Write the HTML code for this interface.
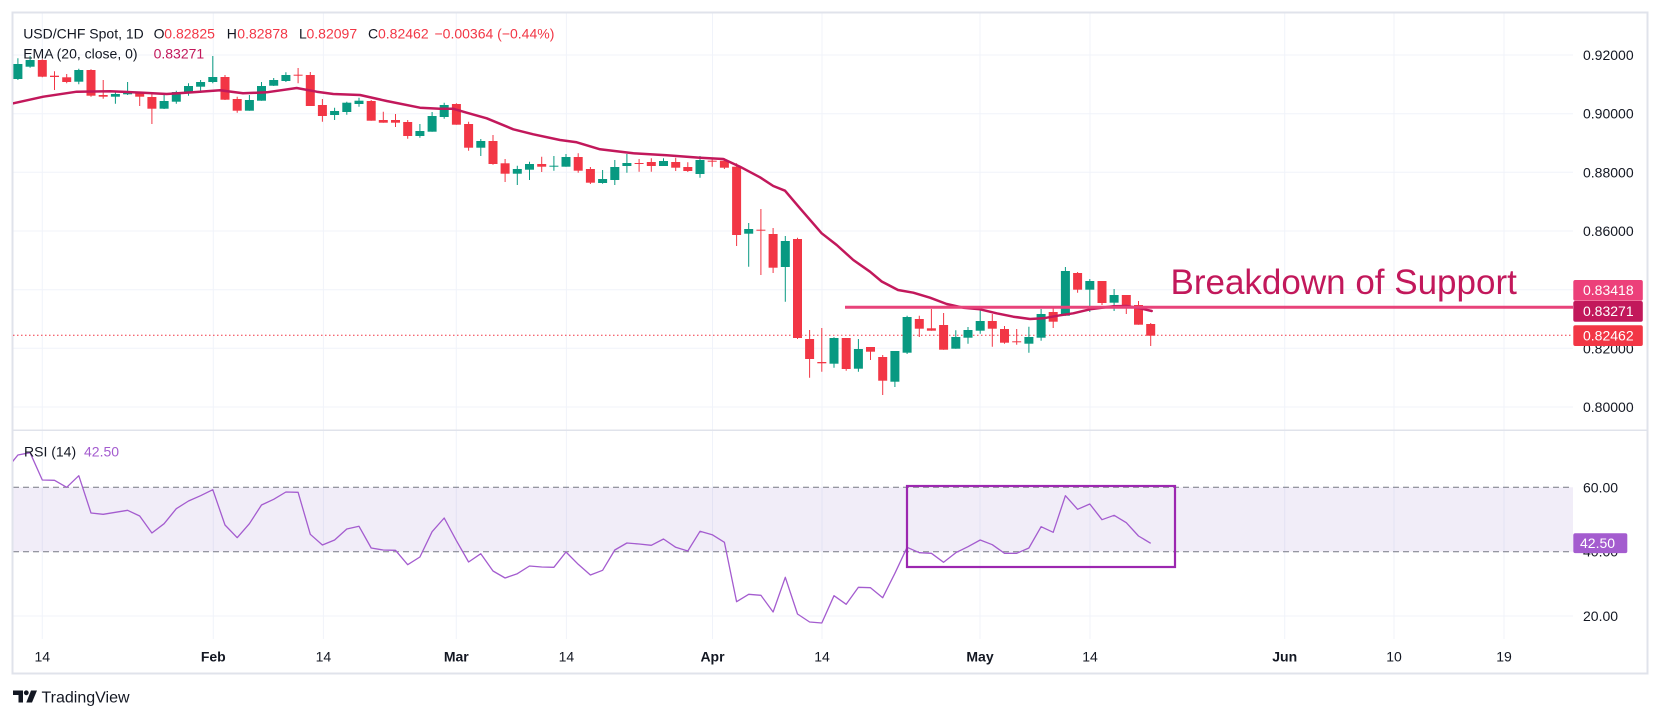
<!DOCTYPE html>
<html>
<head>
<meta charset="utf-8">
<style>
html,body{margin:0;padding:0;background:#fff;}
svg{display:block;}
text{font-family:"Liberation Sans",sans-serif;}
</style>
</head>
<body>
<svg width="1661" height="718" viewBox="0 0 1661 718" xmlns="http://www.w3.org/2000/svg">
<defs>
<clipPath id="cp"><rect x="13" y="13.5" width="1560" height="416.5"/></clipPath>
<clipPath id="cr"><rect x="13" y="430.5" width="1560" height="209"/></clipPath>
</defs>
<rect x="0" y="0" width="1661" height="718" fill="#fff"/>

<g stroke="#f0f3fa" stroke-width="1">
<path d="M13 55H1573M13 113.7H1573M13 172.3H1573M13 231H1573M13 289.7H1573M13 348.3H1573M13 407H1573M13 616H1573"/>
<path d="M42.3 13V639M213.3 13V639M323.4 13V639M456.3 13V639M566.4 13V639M712.5 13V639M822 13V639M980 13V639M1090 13V639M1284.7 13V639M1394 13V639M1504 13V639"/>
</g>

<rect x="13" y="487.3" width="1560" height="64.4" fill="#7e57c2" fill-opacity="0.11"/>
<path d="M13 487.3H1573M13 551.7H1573" stroke="#787b86" stroke-width="1" stroke-dasharray="6 4"/>

<path d="M12 430.3H1648" stroke="#e0e3eb" stroke-width="1.5"/>
<rect x="12.5" y="12.5" width="1635" height="661" fill="none" stroke="#e0e3eb" stroke-width="2"/>

<g clip-path="url(#cp)">
<path d="M13 335.3H1573" stroke="#f23645" stroke-width="1" stroke-dasharray="1.5 2.5"/>

<path stroke="#089981" stroke-width="1" fill="none" d="M17.9 58.3V80M30.1 56V67.7M78.8 68.7V84.3M115.4 92V103.7M127.6 82V95M164.1 93.3V109M176.3 90.7V103.7M188.5 83.3V95.7M200.6 80V92.7M212.8 56V83.3M249.4 95V110.7M261.5 82V100.7M273.7 78V86M285.9 72.3V82M334.6 107.7V120M346.8 101.7V114.7M359 97.7V106.7M419.9 124V137.7M432.1 112V131.7M444.2 102.7V118.7M480.8 139V156M517.3 165.7V185M529.5 161.7V180M553.9 156V170.7M566 154V166.7M602.6 170V183.7M614.8 160V185M626.9 154V172.7M663.5 158.3V166M700 156V177.7M748.7 223V266.7M785.3 236V301.7M834 337.3V367.7M858.4 339V371.7M894.9 351V387M907.1 315.7V354M955.8 330.3V348.7M968 327V343.7M980.2 309V333.7M1028.9 326.7V352.7M1041.1 309V340.7M1065.4 267V315.7M1089.8 279V312M1114.1 289V311"/>
<g fill="#089981">
<rect x="13.4" y="64" width="9" height="15"/>
<rect x="25.6" y="60" width="9" height="6.7"/>
<rect x="74.3" y="70" width="9" height="11.7"/>
<rect x="110.9" y="94" width="9" height="2.7"/>
<rect x="123.1" y="92.7" width="9" height="1.6"/>
<rect x="159.6" y="101" width="9" height="7.7"/>
<rect x="171.8" y="92" width="9" height="9.7"/>
<rect x="184" y="86" width="9" height="7.3"/>
<rect x="196.1" y="82" width="9" height="4.7"/>
<rect x="208.3" y="77" width="9" height="5"/>
<rect x="244.9" y="100" width="9" height="10.7"/>
<rect x="257" y="86" width="9" height="14.7"/>
<rect x="269.2" y="80" width="9" height="5.7"/>
<rect x="281.4" y="75" width="9" height="6"/>
<rect x="330.1" y="111" width="9" height="4"/>
<rect x="342.3" y="102.7" width="9" height="9.3"/>
<rect x="354.5" y="100.7" width="9" height="3.3"/>
<rect x="415.4" y="131" width="9" height="5"/>
<rect x="427.6" y="116" width="9" height="15.7"/>
<rect x="439.7" y="105" width="9" height="12"/>
<rect x="476.3" y="141" width="9" height="6.7"/>
<rect x="512.8" y="169" width="9" height="4.7"/>
<rect x="525" y="164" width="9" height="5.7"/>
<rect x="549.4" y="165.7" width="9" height="1"/>
<rect x="561.5" y="157" width="9" height="9.7"/>
<rect x="598.1" y="179" width="9" height="4"/>
<rect x="610.3" y="167" width="9" height="13"/>
<rect x="622.4" y="163" width="9" height="3"/>
<rect x="659" y="161" width="9" height="5"/>
<rect x="695.5" y="160" width="9" height="14"/>
<rect x="744.2" y="229" width="9" height="4.7"/>
<rect x="780.8" y="241" width="9" height="26"/>
<rect x="829.5" y="338" width="9" height="25.7"/>
<rect x="853.9" y="349" width="9" height="19.7"/>
<rect x="890.4" y="351" width="9" height="30.7"/>
<rect x="902.6" y="317" width="9" height="35.7"/>
<rect x="951.3" y="337" width="9" height="11.7"/>
<rect x="963.5" y="330" width="9" height="7.7"/>
<rect x="975.7" y="321" width="9" height="9.7"/>
<rect x="1024.4" y="337" width="9" height="6.7"/>
<rect x="1036.6" y="314" width="9" height="23.7"/>
<rect x="1060.9" y="271" width="9" height="44.7"/>
<rect x="1085.3" y="281" width="9" height="8.7"/>
<rect x="1109.6" y="295" width="9" height="7.7"/>
</g>

<path stroke="#f23645" stroke-width="1" fill="none" d="M42.3 59.3V77.3M54.5 71.3V90M66.7 74V83.3M91 69.3V96.7M103.2 80V98.7M139.7 91.7V106M151.9 92.3V124M225 75V100M237.2 96.7V112.7M298.1 68V83.3M310.3 72V106M322.4 99V121.7M371.2 100V120.7M383.3 111.7V122.7M395.5 114V127M407.7 120V138.7M456.4 103.3V124.7M468.6 121.7V150.7M493 135V164.7M505.1 159V182M541.7 156.7V172M578.2 153.3V172.7M590.4 167V184M639.1 159V171.7M651.3 158.3V171.7M675.7 157.7V171M687.8 162.3V172M712.2 158.3V166.7M724.4 158.3V169M736.6 163.3V246M760.9 209V275M773.1 228V273M797.5 237.7V339M809.6 330V377.7M821.8 328V371.7M846.2 338V370.7M870.5 347V360M882.7 355V395M919.3 315.7V337M931.4 309V330.7M943.6 313V349.7M992.3 314V346.7M1004.5 326V343.7M1016.7 329V344.7M1053.2 308V328M1077.6 272V292.7M1102 281V305M1126.3 295V314M1138.5 301V324.7M1150.7 323V346"/>
<g fill="#f23645">
<rect x="37.8" y="60" width="9" height="16.7"/>
<rect x="50" y="75.7" width="9" height="1.3"/>
<rect x="62.2" y="77.3" width="9" height="4.7"/>
<rect x="86.5" y="70" width="9" height="25.7"/>
<rect x="98.7" y="95" width="9" height="1.7"/>
<rect x="135.2" y="93.3" width="9" height="3.4"/>
<rect x="147.4" y="97" width="9" height="11.7"/>
<rect x="220.5" y="77" width="9" height="22.7"/>
<rect x="232.7" y="99" width="9" height="11.7"/>
<rect x="293.6" y="74.7" width="9" height="1"/>
<rect x="305.8" y="75" width="9" height="31"/>
<rect x="317.9" y="105" width="9" height="11"/>
<rect x="366.7" y="101" width="9" height="19.7"/>
<rect x="378.8" y="120" width="9" height="2.7"/>
<rect x="391" y="120" width="9" height="2.7"/>
<rect x="403.2" y="122" width="9" height="14"/>
<rect x="451.9" y="104" width="9" height="20.7"/>
<rect x="464.1" y="124" width="9" height="23.7"/>
<rect x="488.5" y="141" width="9" height="23"/>
<rect x="500.6" y="163.3" width="9" height="10.4"/>
<rect x="537.2" y="164" width="9" height="2.7"/>
<rect x="573.7" y="157" width="9" height="13.7"/>
<rect x="585.9" y="169" width="9" height="13.7"/>
<rect x="634.6" y="163" width="9" height="1"/>
<rect x="646.8" y="162" width="9" height="4"/>
<rect x="671.2" y="162" width="9" height="5.7"/>
<rect x="683.3" y="167" width="9" height="4"/>
<rect x="707.7" y="160.7" width="9" height="1"/>
<rect x="719.9" y="160.7" width="9" height="7"/>
<rect x="732.1" y="166.7" width="9" height="68.3"/>
<rect x="756.4" y="229.7" width="9" height="1"/>
<rect x="768.6" y="234" width="9" height="33.7"/>
<rect x="793" y="239" width="9" height="99"/>
<rect x="805.1" y="339" width="9" height="20"/>
<rect x="817.3" y="362" width="9" height="1.3"/>
<rect x="841.7" y="338" width="9" height="31"/>
<rect x="866" y="347" width="9" height="4.7"/>
<rect x="878.2" y="357" width="9" height="23.7"/>
<rect x="914.8" y="319" width="9" height="9.7"/>
<rect x="926.9" y="328.3" width="9" height="2.4"/>
<rect x="939.1" y="325" width="9" height="24.7"/>
<rect x="987.8" y="321" width="9" height="7.7"/>
<rect x="1000" y="329" width="9" height="13.7"/>
<rect x="1012.2" y="341.3" width="9" height="1"/>
<rect x="1048.7" y="312" width="9" height="9.7"/>
<rect x="1073.1" y="273" width="9" height="16.7"/>
<rect x="1097.5" y="281" width="9" height="22"/>
<rect x="1121.8" y="295" width="9" height="11"/>
<rect x="1134" y="305" width="9" height="19.7"/>
<rect x="1146.2" y="324" width="9" height="11.7"/>
</g>

<polyline fill="none" stroke="#c2185b" stroke-width="2.5" stroke-linejoin="round" stroke-linecap="round" points="5,105 13.3,103.3 43.3,96.7 76.7,91.7 110,91.3 143.3,92.7 166.7,94 193,92.3 220,90.3 243,93.3 266.7,92.3 296.7,88 316.7,91.7 333.3,94 360,95 386.7,101 420,107.7 440,108.7 453,108.7 466.7,112.7 486.7,118.3 513.3,129.3 533.3,134.3 560,140 576.7,142.3 600,149.3 633.3,153.3 666.7,155.3 700,157.7 723.3,159 740,166.7 760,177.3 773.3,186 785,190.7 800,208.3 821.7,233.3 836.7,245 853.3,260 870,271.7 881.7,281.5 898,290 913.3,292.7 930,297.7 946.7,304 963.3,307.7 980,309.3 996.7,313.3 1013.3,316.7 1030,319 1043.3,318.3 1060,315.3 1073.3,313.3 1090,309.3 1113.3,306.3 1126.7,306 1140,308.3 1151.7,311"/>

<path d="M845 307.3H1573" stroke="#e8437a" stroke-width="3"/>
</g>

<text x="1170.5" y="294" font-size="35" fill="#c2185b">Breakdown of Support</text>

<g clip-path="url(#cr)">
<polyline fill="none" stroke="#a45ccf" stroke-width="1.3" stroke-linejoin="round" points="5.8,470 17.9,455 30.1,452.7 42.3,480 54.5,480.3 66.7,487.3 78.8,475.7 91,513 103.2,514.3 115.4,512.3 127.6,510.3 139.7,516 151.9,533 164.1,523.7 176.3,508.7 188.5,501 200.6,495.7 212.8,489.7 225,525 237.2,537.7 249.4,523.7 261.5,505 273.7,499.3 285.9,492 298.1,492.3 310.3,534.3 322.4,545 334.6,540 346.8,529 359,526.3 371.2,548 383.3,550 395.5,550.3 407.7,564.7 419.9,557 432.1,531.7 444.2,518 456.4,540.7 468.6,562 480.8,553.7 493,571 505.1,578 517.3,573.7 529.5,566 541.7,567 553.9,567.3 566,552 578.2,564.3 590.4,575 602.6,570.3 614.8,550 626.9,543 639.1,544 651.3,545.3 663.5,539 675.7,547.3 687.8,551 700,531.3 712.2,534.7 724.4,542.3 736.6,601.7 748.7,594.3 760.9,595.3 773.1,612 785.3,577.3 797.5,614 809.6,622 821.8,623 834,595.7 846.2,604.3 858.4,587.3 870.5,587.7 882.7,597.7 894.9,573.3 907.1,547.3 919.3,552.7 931.4,553.3 943.6,562.3 955.8,552.7 968,546.7 980.2,540 992.3,544.7 1004.5,553.3 1016.7,553.3 1028.9,548 1041.1,526.7 1053.2,532.3 1065.4,495.7 1077.6,509.3 1089.8,504 1102,519.7 1114.1,515.3 1126.3,522.7 1138.5,536 1150.7,543.3"/>
<rect x="907" y="486" width="268" height="81" fill="none" stroke="#9c27b0" stroke-width="2.2"/>
</g>

<g font-size="14">
<text x="23.2" y="38.5" fill="#131722">USD/CHF Spot, 1D</text>
<text x="153.6" y="38.5" fill="#131722">O</text>
<text x="164.3" y="38.5" fill="#f23645">0.82825</text>
<text x="226.8" y="38.5" fill="#131722">H</text>
<text x="237.3" y="38.5" fill="#f23645">0.82878</text>
<text x="299" y="38.5" fill="#131722">L</text>
<text x="306.5" y="38.5" fill="#f23645">0.82097</text>
<text x="368" y="38.5" fill="#131722">C</text>
<text x="378" y="38.5" fill="#f23645">0.82462</text>
<text x="434.5" y="38.5" fill="#f23645">−0.00364 (−0.44%)</text>
<text x="23.2" y="58.5" fill="#131722">EMA (20, close, 0)</text>
<text x="153.6" y="58.5" fill="#c2185b">0.83271</text>
<text x="24" y="456.7" fill="#131722">RSI (14)</text>
<text x="84" y="456.7" fill="#a45ccf">42.50</text>
</g>

<g font-size="14" fill="#131722">
<text x="1583" y="60">0.92000</text>
<text x="1583" y="118.7">0.90000</text>
<text x="1583" y="177.3">0.88000</text>
<text x="1583" y="236">0.86000</text>
<text x="1583" y="294.7">0.84000</text>
<text x="1583" y="353.3">0.82000</text>
<text x="1583" y="412">0.80000</text>
<text x="1583" y="492.3">60.00</text>
<text x="1583" y="556.7">40.00</text>
<text x="1583" y="621">20.00</text>
</g>
<g font-size="14" fill="#fff">
<rect x="1573.3" y="280" width="69.5" height="20.7" rx="2" fill="#ec407a"/>
<text x="1583" y="295.2">0.83418</text>
<rect x="1573.3" y="301" width="69.5" height="20.7" rx="2" fill="#c2185b"/>
<text x="1583" y="316.2">0.83271</text>
<rect x="1573.3" y="325.3" width="69.5" height="20.7" rx="2" fill="#f23645"/>
<text x="1583" y="340.5">0.82462</text>
<rect x="1573.3" y="533.3" width="54" height="19.8" rx="2" fill="#a45ccf"/>
<text x="1580" y="548.2">42.50</text>
</g>

<g font-size="14" fill="#131722" text-anchor="middle">
<text x="42.3" y="661.5">14</text>
<text x="213.3" y="661.5" font-weight="bold">Feb</text>
<text x="323.4" y="661.5">14</text>
<text x="456.3" y="661.5" font-weight="bold">Mar</text>
<text x="566.4" y="661.5">14</text>
<text x="712.5" y="661.5" font-weight="bold">Apr</text>
<text x="822" y="661.5">14</text>
<text x="980" y="661.5" font-weight="bold">May</text>
<text x="1090" y="661.5">14</text>
<text x="1284.7" y="661.5" font-weight="bold">Jun</text>
<text x="1394" y="661.5">10</text>
<text x="1504" y="661.5">19</text>
</g>

<g fill="#131722">
<path d="M13 690.5H23V702.5H18.5V695H13Z"/>
<circle cx="26.3" cy="692.8" r="2.4"/>
<path d="M31 690.5H37L32 702.5H26.3Z"/>
<text x="41.5" y="702.5" font-size="16">TradingView</text>
</g>
</svg>
</body>
</html>
